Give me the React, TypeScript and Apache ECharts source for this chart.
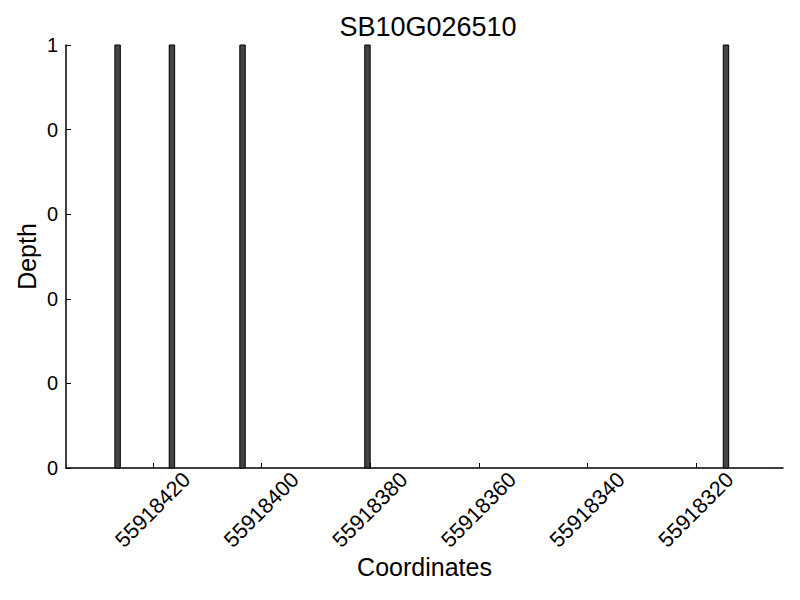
import React, { useEffect, useRef } from "react";
import * as echarts from "echarts";

const title = "SB10G026510";
const positions = [55918426, 55918416, 55918403, 55918380, 55918314];
const depths = [1, 1, 1, 1, 1];
const xTicks = [55918420, 55918400, 55918380, 55918360, 55918340, 55918320];
const xMin = 55918304;
const xMax = 55918436;
const barSpan = 1;

const FONT = "Liberation Sans";

export default function App() {
  const ref = useRef<HTMLDivElement>(null);
  useEffect(() => {
    if (!ref.current) return;
    const chart = echarts.init(ref.current, undefined, { renderer: "svg" });
    const data = positions.map((p, i) => [p, depths[i]]);
    chart.setOption({
      animation: false,
      backgroundColor: "#ffffff",
      title: {
        text: title,
        left: 423,
        top: 8,
        textAlign: "center",
        textStyle: { fontFamily: FONT, fontSize: 27, fontWeight: "normal", color: "#000" },
      },
      grid: { left: 66, right: 17, top: 45, bottom: 132 },
      xAxis: {
        type: "value",
        inverse: true,
        min: xMin,
        max: xMax,
        name: "Coordinates",
        nameLocation: "middle",
        nameGap: 86,
        nameMoveOverlap: false,
        nameTextStyle: { fontFamily: FONT, fontSize: 25, color: "#000" },
        axisLine: { show: true, lineStyle: { color: "#000", width: 1.5 } },
        axisTick: { show: true, inside: true, length: 5, lineStyle: { color: "#000" }, customValues: xTicks },
        axisLabel: {
          show: true,
          customValues: xTicks,
          rotate: 45,
          align: "center",
          verticalAlign: "middle",
          margin: 42,
          fontFamily: FONT,
          fontSize: 21.5,
          color: "#000",
          formatter: (v: number) => String(v),
        },
        splitLine: { show: false },
      },
      yAxis: {
        type: "value",
        min: 0,
        max: 1,
        interval: 0.2,
        name: "Depth",
        nameLocation: "middle",
        nameGap: 27,
        nameMoveOverlap: false,
        nameTextStyle: { fontFamily: FONT, fontSize: 25, color: "#000" },
        axisLine: { show: true, lineStyle: { color: "#000", width: 1.5 } },
        axisTick: { show: true, inside: true, length: 5, lineStyle: { color: "#000" } },
        axisLabel: {
          fontFamily: FONT,
          fontSize: 20,
          color: "#000",
          margin: 8,
          formatter: (v: number) => String(Math.trunc(v + 1e-9)),
        },
        splitLine: { show: false },
      },
      series: [
        {
          type: "custom",
          data,
          encode: { x: 0, y: 1 },
          renderItem: (params: any, api: any) => {
            const x = api.value(0);
            const y = api.value(1);
            const p0 = api.coord([x, 0]);
            const p1 = api.coord([x + barSpan, y]);
            const left = Math.min(p0[0], p1[0]);
            const w = Math.abs(p1[0] - p0[0]);
            return {
              type: "rect",
              shape: { x: left, y: p1[1], width: w, height: p0[1] - p1[1] },
              style: { fill: "#444444", stroke: "#000000", lineWidth: 1 },
            };
          },
        },
      ],
    });
    return () => chart.dispose();
  }, []);
  return (
    <div
      ref={ref}
      style={{ position: "absolute", left: 0, top: 0, width: 800, height: 600, background: "#fff" }}
    />
  );
}
